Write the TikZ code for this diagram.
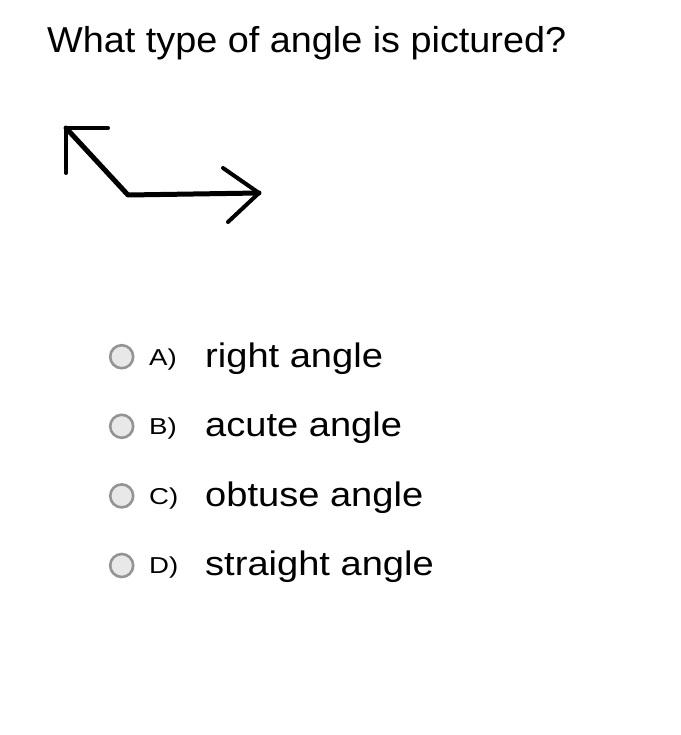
\documentclass[tikz,border=0pt]{standalone}
\usepackage{fontspec}
\setmainfont{Liberation Sans}
\newfontfamily\questfont[FakeStretch=1.05]{Liberation Sans}
\newfontfamily\answerfont[FakeStretch=1.12]{Liberation Sans}
\newfontfamily\letterfont[FakeStretch=1.2]{Liberation Sans}
\usetikzlibrary{positioning}

\begin{document}
\begin{tikzpicture}[x=1pt, y=-1pt]
\tikzstyle{question}=[inner sep=0pt, font=\questfont\fontsize{36}{40}\selectfont, anchor=base west]
\tikzstyle{radio}=[circle, minimum size=23pt, inner sep=0pt, line width=2.6pt, draw=black!42, fill=black!9]
\tikzstyle{letter}=[inner sep=0pt, font=\letterfont\fontsize{23}{26}\selectfont, anchor=base west]
\tikzstyle{answer}=[inner sep=0pt, font=\answerfont\fontsize{34}{38}\selectfont, anchor=base west]
\tikzstyle{shaft}=[line width=5pt, line cap=round, line join=round]
\tikzstyle{barb}=[line width=4pt, line cap=round]

  \fill[white] (0,0) rectangle (680,735);
  \useasboundingbox (0,0) rectangle (680,735);

    % question
  \node[question] (quest) at (47,52.7) {What type of angle is pictured?};

    % the angle
  \coordinate (vertex) at (128,195);
  \coordinate (tipL) at (66,128);
  \coordinate (tipR) at (259,193);
  \draw[shaft] (tipL) -- (vertex) -- (tipR);
  \draw[barb] (tipL) -- ++(42,0);
  \draw[barb] (tipL) -- ++(0,45);
  \draw[barb] (tipR) -- ++(-36,-25);
  \draw[barb] (tipR) -- ++(-31,29);

    % radio buttons
  \node[radio] (optA) at (121.7,356.7) {};
  \node[radio] (optB) [below=44pt of optA] {};
  \node[radio] (optC) [below=44pt of optB] {};
  \node[radio] (optD) [below=44pt of optC] {};

    % choices
  \node[letter] (lblA) at ([shift={(27.3,8.3)}]optA) {A)};
  \node[letter] (lblB) at ([shift={(27.3,8.3)}]optB) {B)};
  \node[letter] (lblC) at ([shift={(27.3,8.3)}]optC) {C)};
  \node[letter] (lblD) at ([shift={(27.3,8.3)}]optD) {D)};
  \node[answer] (ansA) at ([shift={(83.3,10.3)}]optA) {right angle};
  \node[answer] (ansB) at ([shift={(83.3,10.3)}]optB) {acute angle};
  \node[answer] (ansC) at ([shift={(83.3,10.3)}]optC) {obtuse angle};
  \node[answer] (ansD) at ([shift={(83.3,10.3)}]optD) {straight angle};

\end{tikzpicture}
\end{document}
